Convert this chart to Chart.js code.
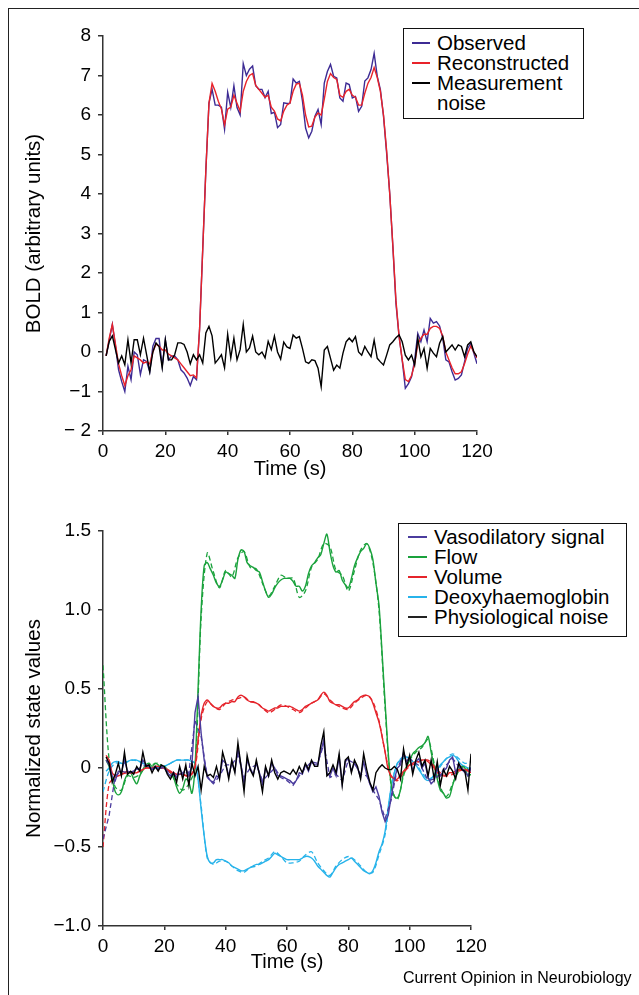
<!DOCTYPE html>
<html>
<head>
<meta charset="utf-8">
<script src="https://cdn.jsdelivr.net/npm/chart.js@4.4.1/dist/chart.umd.min.js"></script>
<style>
  body { margin: 0; background: #fff; width: 639px; height: 995px; position: relative; overflow: hidden;
         font-family: "Liberation Sans", Arial, sans-serif; color: #000; }
  .frame { position: absolute; left: 8px; top: 8px; width: 700px; height: 1100px;
           border-left: 1.5px solid #222; border-top: 1.5px solid #222; }
  canvas { position: absolute; left: 0; }
  #bold { top: 0; }
  #states { top: 490px; }
  .legend { position: absolute; border: 1.3px solid #111; background: #fff; font-size: 20.5px; line-height: 20px;
            box-sizing: border-box; }
  .legend .row { display: flex; align-items: center; height: 20px; white-space: nowrap; }
  .legend .swatch { width: 18px; height: 1.6px; margin-right: 7px; flex: none; }
  .legend .blank { width: 18px; margin-right: 7px; flex: none; }
  .credit { position: absolute; left: 403px; top: 970px; font-size: 16px; line-height: 16px; }
</style>
</head>
<body>
<div class="frame"></div>
<canvas id="bold" width="639" height="490"></canvas>
<canvas id="states" width="639" height="490"></canvas>

<div class="legend" style="left:403px;top:28px;width:181px;height:91px;padding:4px 0 0 8px;">
  <div class="row"><span class="swatch" style="background:#3d2b94"></span>Observed</div>
  <div class="row"><span class="swatch" style="background:#e8232a"></span>Reconstructed</div>
  <div class="row"><span class="swatch" style="background:#000"></span>Measurement</div>
  <div class="row"><span class="blank"></span>noise</div>
</div>

<div class="legend" style="left:398px;top:523px;width:229px;height:114px;padding:3px 0 0 9px;">
  <div class="row"><span class="swatch" style="width:19px;background:#4b3c9e"></span>Vasodilatory signal</div>
  <div class="row"><span class="swatch" style="width:19px;background:#1aa23c"></span>Flow</div>
  <div class="row"><span class="swatch" style="width:19px;background:#e5242b"></span>Volume</div>
  <div class="row"><span class="swatch" style="width:19px;background:#27b3ea"></span>Deoxyhaemoglobin</div>
  <div class="row"><span class="swatch" style="width:19px;background:#222"></span>Physiological noise</div>
</div>

<div class="credit">Current Opinion in Neurobiology</div>

<script>
// sampling grids (s)
const seconds = Array.from({ length: 120 }, (_, i) => i + 1);
const evenSeconds = Array.from({ length: 61 }, (_, i) => i * 2);

// tick labels
const timeTickLabels = ['0', '20', '40', '60', '80', '100', '120'];
const boldTickLabels = ['\u2212 2', '\u22121', '0', '1', '2', '3', '4', '5', '6', '7', '8'];
const stateTickLabels = ['\u22121.0', '\u22120.5', '0', '0.5', '1.0', '1.5'];

// top panel: BOLD signal, t = 1..120 s
const observed = [
  -0.1, 0.3, 0.7, 0.15, -0.45, -0.75, -1.0, -0.36, -0.7, 0.0,
  -0.07, -0.57, -0.2, -0.24, -0.5, 0.15, 0.34, 0.34, -0.36, 0.31,
  -0.2, -0.1, -0.1, -0.2, -0.45, -0.53, -0.66, -0.85, -0.62, -0.7,
  0.6, 2.6, 4.6, 6.3, 6.65, 6.25, 6.25, 6.2, 5.64, 6.58,
  6.19, 6.74, 6.19, 6.0, 7.3, 7.0, 7.16, 7.24, 6.74, 6.65,
  6.65, 6.44, 6.6, 6.04, 6.07, 5.68, 5.76, 6.31, 6.29, 6.3,
  6.91, 6.81, 6.85, 6.35, 5.67, 5.42, 5.59, 5.97, 6.14, 5.76,
  6.81, 7.1, 7.28, 6.98, 6.94, 6.43, 6.35, 6.81, 6.77, 6.43,
  6.47, 6.09, 6.22, 6.86, 6.94, 7.15, 7.56, 6.98, 6.64, 5.97,
  5.04, 4.02, 2.67, 1.23, 0.39, -0.2, -0.92, -0.8, -0.63, -0.2,
  0.47, 0.26, 0.56, 0.26, 0.85, 0.73, 0.77, 0.66, 0.35, -0.2,
  -0.25, -0.5, -0.71, -0.67, -0.58, -0.25, 0.09, 0.22, -0.03, -0.3
];
const reconstructed = [
  -0.1, 0.35, 0.7, 0.2, -0.3, -0.6, -0.85, -0.6, -0.45, -0.1,
  -0.15, -0.2, -0.28, -0.25, -0.3, 0.0, 0.2, 0.15, 0.05, 0.05,
  -0.05, -0.1, -0.15, -0.2, -0.3, -0.4, -0.5, -0.6, -0.58, -0.65,
  0.6, 2.6, 4.6, 6.3, 6.8, 6.6, 6.35, 6.15, 5.75, 6.15,
  6.2, 6.5, 6.3, 6.1, 6.6, 6.85, 7.0, 7.05, 6.75, 6.65,
  6.55, 6.45, 6.5, 6.2, 6.1, 5.9, 5.85, 6.1, 6.25, 6.3,
  6.6, 6.78, 6.8, 6.5, 6.0, 5.7, 5.72, 5.95, 6.05, 6.0,
  6.4, 6.85, 7.05, 6.95, 6.9, 6.5, 6.45, 6.6, 6.65, 6.5,
  6.45, 6.25, 6.25, 6.55, 6.8, 6.95, 7.2, 6.95, 6.6, 6.0,
  5.1, 4.0, 2.7, 1.3, 0.4, -0.2, -0.7, -0.75, -0.6, -0.3,
  0.2, 0.35, 0.45, 0.45, 0.6, 0.65, 0.65, 0.6, 0.4, 0.0,
  -0.2, -0.4, -0.55, -0.55, -0.5, -0.3, -0.05, 0.15, 0.0, -0.15
];
const measurementNoise = [
  -0.1, 0.27, 0.41, 0.06, -0.28, -0.1, -0.32, 0.31, -0.28, 0.31,
  0.31, -0.07, 0.35, -0.07, -0.5, 0.0, 0.23, 0.14, -0.4, 0.31,
  -0.2, -0.2, -0.07, 0.23, 0.23, 0.19, 0.0, -0.3, -0.07, -0.2,
  -0.07, -0.28, 0.48, 0.65, 0.41, -0.28, -0.18, -0.07, -0.4, 0.45,
  -0.15, 0.35, -0.2, 0.06, 0.7, 0.0, 0.1, 0.4, 0.0, -0.07,
  0.0, -0.15, 0.27, 0.06, 0.4, 0.0, -0.18, 0.25, 0.13, 0.09,
  0.43, 0.35, 0.39, 0.09, -0.25, -0.29, -0.2, -0.22, -0.41, -0.88,
  0.05, 0.14, -0.16, -0.46, -0.33, -0.41, -0.03, 0.26, 0.35, 0.26,
  0.39, 0.0, -0.08, 0.14, 0.0, -0.12, 0.3, -0.16, -0.25, -0.33,
  -0.08, 0.18, 0.26, 0.36, 0.43, 0.26, -0.08, -0.2, -0.08, -0.33,
  0.35, -0.12, 0.09, -0.41, 0.09, -0.03, -0.12, 0.22, 0.39, 0.0,
  0.09, 0.18, 0.05, 0.18, 0.14, -0.12, 0.18, 0.26, 0.0, -0.12
];

// bottom panel: normalized hidden states, solid = t 1..120 s
const vasodilatory = [
  0.05, 0.02, -0.05, -0.08, -0.02, -0.03, 0.05, -0.02, -0.03, -0.02,
  0.0, -0.01, 0.05, 0.02, 0.01, -0.01, 0.01, -0.01, 0.01, 0.0,
  -0.03, -0.05, -0.03, -0.06, 0.0, -0.04, 0.0, -0.05, 0.02, 0.35,
  0.45, 0.22, 0.05, -0.05, -0.08, -0.09, -0.05, -0.06, 0.05, 0.03,
  -0.05, 0.03, -0.02, 0.12, 0.02, -0.1, 0.05, 0.0, -0.04, 0.03,
  -0.03, -0.1, 0.0, -0.05, 0.03, 0.0, -0.05, -0.05, -0.06, -0.07,
  -0.08, -0.1, -0.08, -0.03, -0.04, 0.02, -0.02, 0.04, 0.02, 0.02,
  0.1, 0.18, -0.03, -0.05, 0.0, -0.05, 0.07, -0.1, 0.04, 0.06,
  -0.02, 0.03, 0.0, -0.06, 0.04, -0.04, -0.1, -0.15, -0.12, -0.18,
  -0.28, -0.34, -0.3, -0.18, -0.07, 0.0, 0.02, 0.1, 0.04, 0.07,
  -0.02, 0.04, 0.06, 0.0, 0.03, -0.06, -0.1, -0.08, 0.0, -0.05,
  -0.02, 0.0, 0.05, 0.07, -0.03, 0.02, 0.0, -0.02, -0.05, 0.0
];
const flow = [
  0.05, 0.01, -0.07, -0.15, -0.17, -0.15, -0.08, -0.04, -0.03, -0.07,
  -0.1, -0.05, -0.01, 0.02, 0.03, 0.01, 0.03, 0.02, 0.0, 0.01,
  -0.01, -0.03, -0.06, -0.12, -0.16, -0.13, -0.07, -0.09, -0.16, 0.01,
  0.5, 1.0, 1.28, 1.3, 1.26, 1.22, 1.17, 1.15, 1.19, 1.24,
  1.23, 1.22, 1.2, 1.32, 1.38, 1.37, 1.3, 1.28, 1.27, 1.25,
  1.24, 1.18, 1.12, 1.08, 1.1, 1.14, 1.17, 1.19, 1.2, 1.2,
  1.2, 1.18, 1.15, 1.15, 1.12, 1.15, 1.23, 1.28, 1.3, 1.33,
  1.35, 1.42, 1.48, 1.37, 1.28, 1.24, 1.25, 1.19, 1.16, 1.14,
  1.2, 1.28, 1.33, 1.37, 1.39, 1.42, 1.39, 1.32, 1.17, 1.03,
  0.73, 0.41, 0.1, -0.11, -0.18, -0.19, -0.14, -0.03, 0.01, 0.05,
  0.09, 0.11, 0.13, 0.14, 0.16, 0.2, 0.1, 0.01, -0.07, -0.14,
  -0.16, -0.19, -0.18, -0.11, -0.05, -0.01, 0.01, 0.0, -0.05, -0.04
];
const volume = [
  0.08, 0.05, -0.03, -0.05, -0.05, -0.04, -0.03, -0.02, -0.03, -0.03,
  -0.03, -0.02, -0.01, 0.0, 0.0, 0.0, 0.01, 0.01, 0.0, 0.0,
  -0.01, -0.03, -0.03, -0.04, -0.04, -0.04, -0.05, -0.05, -0.04, 0.01,
  0.18, 0.33, 0.41, 0.43, 0.41, 0.39, 0.38, 0.38, 0.4, 0.41,
  0.41, 0.42, 0.42, 0.45, 0.46, 0.45, 0.43, 0.42, 0.42, 0.41,
  0.4, 0.38, 0.37, 0.36, 0.37, 0.38, 0.38, 0.39, 0.39, 0.39,
  0.39, 0.38, 0.37, 0.36, 0.37, 0.39, 0.4, 0.41, 0.42, 0.43,
  0.46, 0.48, 0.46, 0.42, 0.41, 0.4, 0.4, 0.39, 0.38, 0.38,
  0.4, 0.42, 0.43, 0.45, 0.46, 0.46, 0.45, 0.41, 0.35, 0.29,
  0.2, 0.1, -0.01, -0.05, -0.07, -0.07, -0.04, -0.02, 0.0, 0.02,
  0.03, 0.04, 0.04, 0.05, 0.05, 0.04, 0.02, 0.0, -0.03, -0.04,
  -0.05, -0.05, -0.03, -0.03, -0.02, -0.01, -0.01, -0.01, -0.02, -0.03
];
const deoxy = [
  -0.02, 0.0, 0.03, 0.04, 0.04, 0.03, 0.03, 0.04, 0.05, 0.05,
  0.05, 0.04, 0.03, 0.02, 0.01, 0.0, 0.0, 0.0, 0.0, 0.01,
  0.02, 0.03, 0.04, 0.05, 0.05, 0.05, 0.05, 0.05, 0.04, 0.03,
  -0.07, -0.26, -0.43, -0.56, -0.6, -0.6, -0.58, -0.58, -0.58, -0.59,
  -0.6, -0.62, -0.63, -0.64, -0.65, -0.65, -0.64, -0.63, -0.62, -0.61,
  -0.61, -0.6, -0.59, -0.58, -0.56, -0.54, -0.55, -0.56, -0.57, -0.58,
  -0.58, -0.58, -0.58, -0.58, -0.57, -0.56, -0.56, -0.57, -0.59, -0.62,
  -0.64, -0.66, -0.68, -0.69, -0.66, -0.63, -0.61, -0.6, -0.59, -0.58,
  -0.57, -0.59, -0.61, -0.63, -0.65, -0.66, -0.67, -0.65, -0.6, -0.53,
  -0.48, -0.4, -0.25, -0.12, -0.03, 0.03, 0.05, 0.06, 0.07, 0.06,
  0.04, 0.02, -0.01, -0.04, -0.07, -0.08, -0.07, -0.04, -0.01, 0.02,
  0.04, 0.06, 0.07, 0.08, 0.07, 0.04, 0.02, 0.01, 0.0, 0.0
];
const physioNoise = [
  0.07, 0.03, -0.09, -0.04, 0.03, -0.05, 0.1, -0.04, -0.02, -0.04,
  0.01, -0.02, 0.1, 0.01, 0.02, -0.03, 0.01, -0.02, 0.02, 0.01,
  -0.04, -0.07, -0.03, -0.09, 0.01, -0.07, 0.02, -0.11, 0.03, -0.05,
  0.01, -0.14, 0.01, -0.05, -0.04, -0.06, 0.01, -0.07, 0.1, 0.03,
  -0.07, 0.05, -0.03, 0.16, 0.01, -0.15, 0.08, -0.01, -0.05, 0.05,
  -0.04, -0.15, 0.01, -0.05, 0.05, -0.03, -0.07, -0.03, -0.02, -0.03,
  -0.04, -0.01, -0.04, 0.01, -0.03, 0.03, -0.01, 0.05, 0.01, 0.01,
  0.14, 0.23, -0.05, -0.03, 0.02, -0.03, 0.09, -0.11, 0.05, 0.07,
  -0.03, 0.05, 0.01, -0.07, 0.09, -0.01, -0.09, -0.14, -0.03, 0.0,
  0.02, 0.0, -0.01, -0.01, 0.01, -0.01, -0.07, 0.12, 0.01, 0.08,
  -0.04, 0.05, 0.1, 0.01, 0.05, -0.05, 0.05, -0.07, 0.04, -0.11,
  -0.01, -0.05, 0.01, -0.02, -0.07, 0.03, -0.01, -0.02, -0.14, 0.09
];

// bottom panel: dashed (true) states, t = 0, 2, ..., 120 s
const vasodilatoryTrue = [
  -0.45, -0.3, -0.05, -0.02, -0.03, -0.02, 0.0, 0.02, -0.01, 0.0,
  0.0, -0.04, -0.05, -0.03, -0.03, 0.3, 0.2, -0.06, -0.1, -0.05,
  0.02, 0.02, 0.08, -0.06, 0.0, 0.02, -0.08, -0.04, 0.0, -0.06,
  -0.08, -0.11, -0.05, 0.0, 0.04, 0.03, 0.15, -0.06, -0.04, -0.08,
  0.05, 0.03, -0.04, -0.05, -0.14, -0.2, -0.32, -0.2, 0.0, 0.08,
  0.06, 0.03, 0.0, -0.08, -0.07, -0.04, 0.02, 0.06, 0.01, -0.03, 0.0
];
const flowTrue = [
  0.65, 0.05, -0.12, -0.14, -0.05, -0.06, -0.04, 0.01, 0.02, 0.03,
  0.0, -0.03, -0.1, -0.14, -0.1, 0.0, 0.95, 1.36, 1.24, 1.14,
  1.25, 1.21, 1.33, 1.37, 1.27, 1.26, 1.17, 1.09, 1.15, 1.22,
  1.2, 1.2, 1.08, 1.12, 1.27, 1.32, 1.42, 1.4, 1.25, 1.22,
  1.12, 1.25, 1.38, 1.42, 1.3, 1.0, 0.38, -0.12, -0.2, -0.05,
  0.05, 0.1, 0.13, 0.18, 0.03, -0.12, -0.18, -0.1, -0.02, 0.01, -0.04
];
const volumeTrue = [
  -0.5, -0.1, -0.06, -0.04, -0.03, -0.03, -0.02, 0.0, 0.0, 0.01,
  0.0, -0.02, -0.04, -0.04, -0.05, 0.0, 0.31, 0.42, 0.39, 0.37,
  0.41, 0.43, 0.44, 0.45, 0.42, 0.41, 0.38, 0.35, 0.37, 0.4,
  0.39, 0.37, 0.35, 0.38, 0.41, 0.43, 0.47, 0.43, 0.4, 0.38,
  0.37, 0.41, 0.44, 0.46, 0.42, 0.3, 0.1, -0.06, -0.08, -0.03,
  0.01, 0.03, 0.05, 0.05, 0.01, -0.03, -0.05, -0.04, -0.02, -0.01, -0.02
];
const deoxyTrue = [
  -0.15, -0.02, 0.03, 0.03, 0.04, 0.05, 0.04, 0.02, 0.0, 0.0,
  0.01, 0.03, 0.05, 0.05, 0.05, 0.03, -0.24, -0.57, -0.61, -0.59,
  -0.59, -0.62, -0.65, -0.66, -0.63, -0.62, -0.59, -0.57, -0.53, -0.56,
  -0.6, -0.6, -0.59, -0.55, -0.53, -0.6, -0.65, -0.68, -0.62, -0.58,
  -0.56, -0.58, -0.62, -0.66, -0.66, -0.55, -0.42, -0.12, 0.03, 0.07,
  0.06, 0.03, -0.03, -0.07, -0.05, 0.01, 0.06, 0.09, 0.06, 0.03, 0.04
];

Chart.defaults.font.family = '"Liberation Sans", Arial, Helvetica, sans-serif';
Chart.defaults.color = '#000';

const pts = (xs, ys) => xs.map((x, i) => ({ x: x, y: ys[i] }));

function line(label, xs, ys, color, dashed, tension) {
  return {
    label: label,
    data: pts(xs, ys),
    borderColor: color,
    borderWidth: dashed ? 1.3 : 1.4,
    borderDash: dashed ? [5, 3] : [],
    pointRadius: 0,
    tension: tension || 0,
    fill: false
  };
}

function axisStyle() {
  return {
    grid: { drawOnChartArea: false, drawTicks: true, color: '#333', lineWidth: 1.5 },
    border: { display: true, color: '#333', width: 1.5 }
  };
}

function makeChart(id, datasets, cfg) {
  const x = axisStyle();
  x.grid.tickLength = 4;
  const y = axisStyle();
  y.grid.tickLength = 5;
  new Chart(document.getElementById(id), {
    type: 'line',
    data: { datasets: datasets },
    options: {
      responsive: false,
      animation: false,
      devicePixelRatio: 1,
      layout: { padding: { top: cfg.top, right: cfg.right, bottom: 0, left: 0 } },
      plugins: { legend: { display: false }, tooltip: { enabled: false } },
      scales: {
        x: Object.assign(x, {
          type: 'linear', min: 0, max: 120,
          afterFit: s => { s.height = cfg.xHeight; },
          ticks: { stepSize: 20, padding: 5, maxRotation: 0, font: { size: 19 }, color: '#000',
                   callback: (v, i) => timeTickLabels[i] },
          title: { display: true, text: 'Time (s)', font: { size: 20 }, color: '#000',
                   padding: { top: 0, bottom: cfg.xTitlePad } }
        }),
        y: Object.assign(y, {
          min: cfg.yMin, max: cfg.yMax,
          afterFit: s => { s.width = 103; },
          ticks: { stepSize: cfg.yStep, padding: 7, font: { size: 19 }, color: '#000',
                   callback: (v, i) => cfg.yLabels[i] },
          title: { display: true, text: cfg.yTitle, font: { size: 20.5 }, color: '#000',
                   padding: { top: 22, bottom: 0 } }
        })
      }
    }
  });
}

makeChart('bold', [
  line('Measurement noise', seconds, measurementNoise, '#000'),
  line('Reconstructed', seconds, reconstructed, '#e8232a'),
  line('Observed', seconds, observed, '#3d2b94')
], {
  top: 36, right: 162, xHeight: 59, xTitlePad: 9,
  yMin: -2, yMax: 8, yStep: 1, yLabels: boldTickLabels, yTitle: 'BOLD (arbitrary units)'
});

makeChart('states', [
  line('Physiological noise', seconds, physioNoise, '#000'),
  line('Vasodilatory signal', seconds, vasodilatory, '#4b3c9e'),
  line('Vasodilatory signal (true)', evenSeconds, vasodilatoryTrue, '#4b3c9e', true),
  line('Volume', seconds, volume, '#e5242b', false, 0.3),
  line('Volume (true)', evenSeconds, volumeTrue, '#e5242b', true, 0.3),
  line('Flow', seconds, flow, '#1aa23c', false, 0.3),
  line('Flow (true)', evenSeconds, flowTrue, '#1aa23c', true, 0.3),
  line('Deoxyhaemoglobin', seconds, deoxy, '#27b3ea', false, 0.3),
  line('Deoxyhaemoglobin (true)', evenSeconds, deoxyTrue, '#27b3ea', true, 0.3)
], {
  top: 41, right: 168, xHeight: 54, xTitlePad: 6,
  yMin: -1, yMax: 1.5, yStep: 0.5, yLabels: stateTickLabels, yTitle: 'Normalized state values'
});
</script>
</body>
</html>
